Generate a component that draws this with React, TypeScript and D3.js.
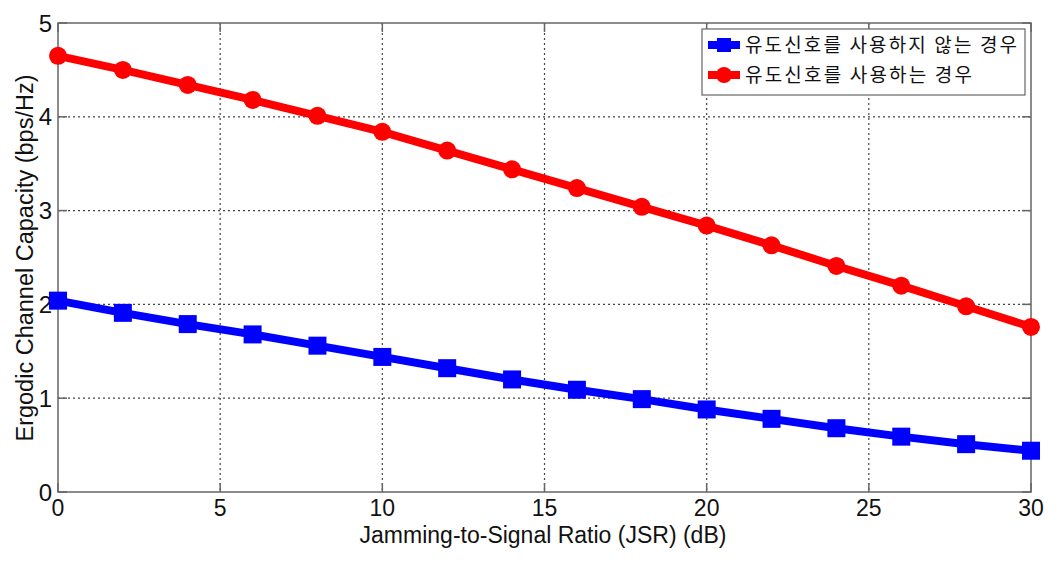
import React from 'react';
import * as d3 from 'd3';

const jsr = [0, 2, 4, 6, 8, 10, 12, 14, 16, 18, 20, 22, 24, 26, 28, 30];
const withoutPilot = [2.04, 1.91, 1.79, 1.68, 1.56, 1.44, 1.32, 1.20, 1.09, 0.99, 0.88, 0.78, 0.68, 0.59, 0.51, 0.44];
const withPilot = [4.65, 4.50, 4.34, 4.18, 4.01, 3.84, 3.64, 3.44, 3.24, 3.04, 2.84, 2.63, 2.41, 2.20, 1.98, 1.76];
const xTicks = [0, 5, 10, 15, 20, 25, 30];
const yTicks = [0, 1, 2, 3, 4, 5];
const seriesNames = ['유도신호를 사용하지 않는 경우', '유도신호를 사용하는 경우'];

const W = 1057;
const H = 565;
const margin = { top: 23, right: 26, bottom: 73, left: 58 };
const font = '"Liberation Sans", Arial, sans-serif';

const App = () => {
    const x = d3.scaleLinear()
        .domain([0, 30])
        .range([margin.left, W - margin.right]);
    const y = d3.scaleLinear()
        .domain([0, 5])
        .range([H - margin.bottom, margin.top]);

    const line = d3.line<number>()
        .x((d, i) => x(jsr[i]))
        .y(d => y(d));

    const x0 = x(0), x1 = x(30), y0 = y(0), y1 = y(5);
    const axisColor = '#666';

    // legend box
    const lg = { x: 702, y: 29, w: 323, h: 66 };
    const legendWidths = [272, 227];

    return (
        <div style={{ position: 'absolute', left: 0, top: 0 }}>
            <svg width={W} height={H} style={{ display: 'block', background: '#fff' }}>
                {/* grid */}
                {xTicks.slice(1, -1).map(t => (
                    <line key={'gx' + t} x1={x(t)} x2={x(t)} y1={y1} y2={y0}
                        stroke="#444" strokeWidth={1.2} strokeDasharray="2,3" />
                ))}
                {yTicks.slice(1, -1).map(t => (
                    <line key={'gy' + t} x1={x0} x2={x1} y1={y(t)} y2={y(t)}
                        stroke="#444" strokeWidth={1.2} strokeDasharray="2,3" />
                ))}

                {/* frame */}
                <rect x={x0} y={y1} width={x1 - x0} height={y0 - y1}
                    fill="none" stroke={axisColor} strokeWidth={1.5} />
                {xTicks.map(t => (
                    <g key={'tx' + t}>
                        <line x1={x(t)} x2={x(t)} y1={y0} y2={y0 - 9} stroke={axisColor} strokeWidth={1.5} />
                        <line x1={x(t)} x2={x(t)} y1={y1} y2={y1 + 9} stroke={axisColor} strokeWidth={1.5} />
                        <text x={x(t)} y={516} textAnchor="middle" fontFamily={font} fontSize={23} fill="#111">{t}</text>
                    </g>
                ))}
                {yTicks.map(t => (
                    <g key={'ty' + t}>
                        <line x1={x0} x2={x0 + 9} y1={y(t)} y2={y(t)} stroke={axisColor} strokeWidth={1.5} />
                        <line x1={x1} x2={x1 - 9} y1={y(t)} y2={y(t)} stroke={axisColor} strokeWidth={1.5} />
                        <text x={x0 - 6} y={y(t) + 8.5} textAnchor="end" fontFamily={font} fontSize={24} fill="#111">{t}</text>
                    </g>
                ))}

                {/* series */}
                <path d={line(withPilot) || ''} fill="none" stroke="#ff0000" strokeWidth={8} strokeLinejoin="round" />
                {withPilot.map((v, i) => (
                    <circle key={'r' + i} cx={x(jsr[i])} cy={y(v)} r={9} fill="#ff0000" />
                ))}
                <path d={line(withoutPilot) || ''} fill="none" stroke="#0000ff" strokeWidth={8} strokeLinejoin="round" />
                {withoutPilot.map((v, i) => (
                    <rect key={'b' + i} x={x(jsr[i]) - 9} y={y(v) - 9} width={18} height={18} fill="#0000ff" />
                ))}

                {/* axis labels */}
                <text x={543} y={543} textAnchor="middle" fontFamily={font} fontSize={23} fill="#111">
                    Jamming-to-Signal Ratio (JSR) (dB)
                </text>
                <text transform={`translate(33,258) rotate(-90)`} textAnchor="middle"
                    fontFamily={font} fontSize={23.5} fill="#111">
                    Ergodic Channel Capacity (bps/Hz)
                </text>

                {/* legend */}
                <rect x={lg.x} y={lg.y} width={lg.w} height={lg.h} fill="#fff" stroke={axisColor} strokeWidth={1.2} />
                {seriesNames.map((name, i) => {
                    const cy = lg.y + 16 + i * 30;
                    const color = i === 0 ? '#0000ff' : '#ff0000';
                    return (
                        <g key={'lg' + i}>
                            <line x1={lg.x + 6} x2={lg.x + 38} y1={cy} y2={cy} stroke={color} strokeWidth={8} />
                            {i === 0
                                ? <rect x={lg.x + 22 - 7} y={cy - 7} width={14} height={14} fill={color} />
                                : <circle cx={lg.x + 22} cy={cy} r={8} fill={color} />}
                            <text x={lg.x + 43} y={cy + 7} fontFamily='"Noto Sans CJK KR", sans-serif'
                                fontSize={19} textLength={legendWidths[i]} lengthAdjust="spacing"
                                fill="#111">{name}</text>
                        </g>
                    );
                })}
            </svg>
        </div>
    );
};

export default App;
